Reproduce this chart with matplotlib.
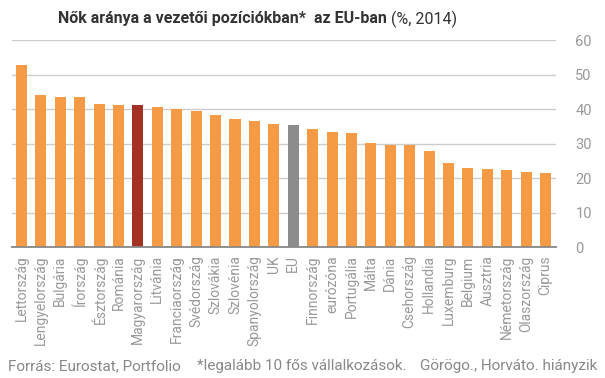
import numpy as np
import matplotlib.pyplot as plt

# adatok
orszagok = ['Lettország', 'Lengyelország', 'Bulgária', 'Írország', 'Észtország',
            'Románia', 'Magyarország', 'Litvánia', 'Franciaország', 'Svédország',
            'Szlovákia', 'Szlovénia', 'Spanyolország', 'UK', 'EU', 'Finnország',
            'eurózóna', 'Portugália', 'Málta', 'Dánia', 'Csehország', 'Hollandia',
            'Luxemburg', 'Belgium', 'Ausztria', 'Németország', 'Olaszország', 'Ciprus']
aranyok = [52.8, 44.1, 43.6, 43.6, 41.5, 41.2, 41.2, 40.6, 40.0, 39.5,
           38.3, 37.2, 36.6, 35.7, 35.4, 34.3, 33.4, 33.1, 30.2, 29.7,
           29.7, 27.9, 24.4, 23.0, 22.7, 22.4, 21.8, 21.5]
yticks = [0, 10, 20, 30, 40, 50, 60]

NARANCS = '#F59B45'
szinek = [NARANCS] * len(orszagok)
szinek[orszagok.index('Magyarország')] = '#A33224'
szinek[orszagok.index('EU')] = '#8C8C8C'

plt.rcParams['font.family'] = ['Roboto', 'DejaVu Sans']

fig = plt.figure(figsize=(6.05, 3.78), dpi=100)
ax = fig.add_axes([12/605, 1 - 247/378, (556 - 12)/605, (247 - 40.3)/378])

x = np.arange(len(orszagok))
ax.bar(x, aranyok, width=0.57, color=szinek, zorder=3)

ax.set_xlim(-0.49, len(orszagok) - 0.46)
ax.set_ylim(0, 60)
ax.set_yticks(yticks)
ax.yaxis.tick_right()
ax.tick_params(axis='y', length=0, pad=14, labelsize=10.5, labelcolor='#999999')
ax.grid(axis='y', color='#cccccc', linewidth=1, zorder=0)

ax.set_xticks(x)
ax.set_xticklabels(orszagok, rotation=90, fontsize=10, color='#999999')
ax.tick_params(axis='x', length=0, pad=6)

for s in ['top', 'right', 'left']:
  ax.spines[s].set_visible(False)
ax.spines['bottom'].set_color('#888888')
ax.spines['bottom'].set_linewidth(1.3)
ax.spines['bottom'].set_zorder(4)

# cím: félkövér rész + normál rész
t1 = fig.text(0.1, 1 - 19/378, 'Nők aránya a vezetői pozíciókban*  az EU-ban ',
              fontsize=11.5, fontweight='bold', color='#333333', va='center')
fig.canvas.draw()
bb = t1.get_window_extent()
t2 = fig.text(0, 1 - 19/378, '(%, 2014)', fontsize=11.5, color='#333333', va='center')
bb2 = t2.get_window_extent()
teljes = bb.width + bb2.width
bal = (257.5 * 2 - teljes) / 2
t1.set_x(bal / 605)
t2.set_x((bal + bb.width) / 605)

# lábjegyzet
fig.text(8/605, 1 - 366/378, 'Forrás: Eurostat, Portfolio', fontsize=11,
         color='#888888', va='center')
fig.text(197/605, 1 - 366/378, '*legalább 10 fős vállalkozások.', fontsize=11,
         color='#888888', va='center')
fig.text(597/605, 1 - 366/378, 'Görögo., Horváto. hiányzik', fontsize=11,
         color='#888888', va='center', ha='right')

fig.savefig('out.png', dpi=100)
